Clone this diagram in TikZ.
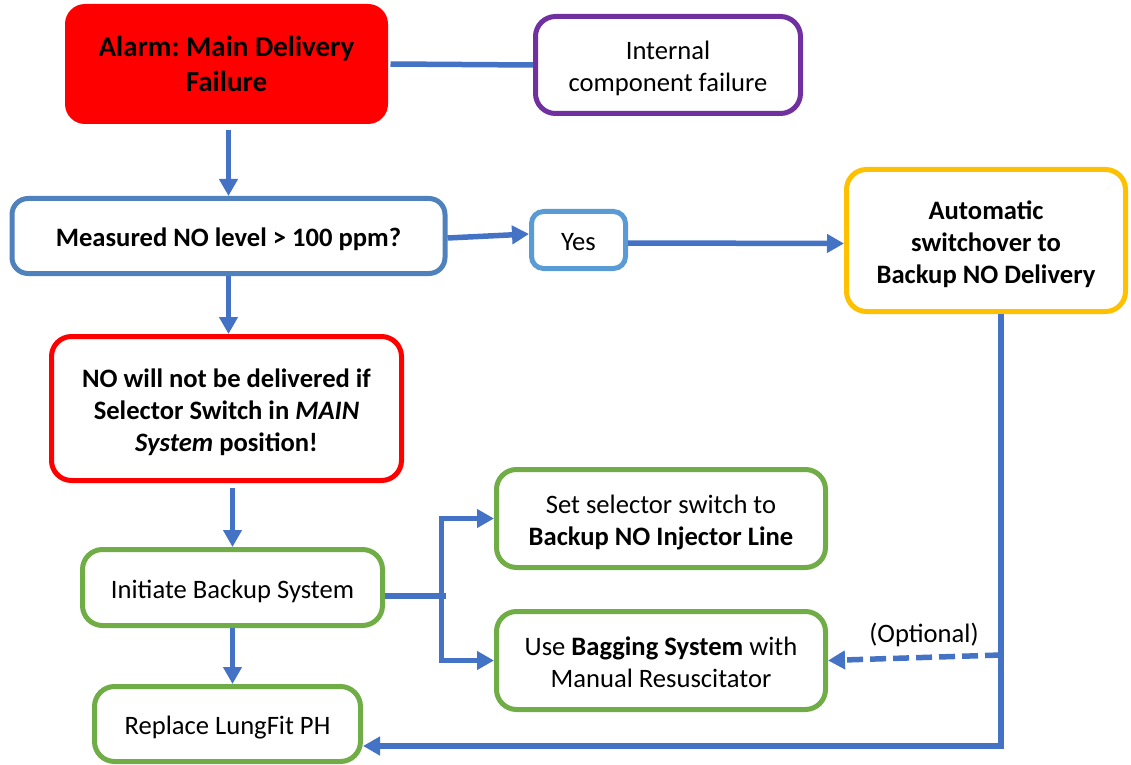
\documentclass[tikz,border=0pt]{standalone}
\usepackage{fontspec}
\setmainfont{Carlito}
\usetikzlibrary{arrows.meta}
\frenchspacing
\definecolor{arrowblue}{HTML}{4472C4}
\definecolor{measblue}{HTML}{4F81BD}
\definecolor{yesblue}{HTML}{5B9BD5}
\definecolor{alarmred}{HTML}{FF0000}
\definecolor{purp}{HTML}{7030A0}
\definecolor{gold}{HTML}{FFC000}
\definecolor{grn}{HTML}{70AD47}
\newcommand\fstrut{\rule{0pt}{14.3pt}}
\newcommand\lstrut{\rule[-3.4pt]{0pt}{0pt}}
\begin{document}
\begin{tikzpicture}[x=0.5pt,y=-0.5pt,
  box/.style={draw, line width=2.5pt, rounded corners=10pt, fill=white, inner sep=0pt,
    align=center, font=\fontsize{13.3}{16.1}\selectfont},
  boldbox/.style={box, font=\bfseries\fontsize{13.3}{16.1}\selectfont},
  conn/.style={draw=arrowblue, line width=2.75pt},
  arr/.style={conn, -{Triangle[width=9pt,length=8.5pt]}},
]
\useasboundingbox (0,0) rectangle (1131,765);

% nodes
\node[box, draw=none, fill=alarmred, minimum width=161.5pt, minimum height=60pt,
  font=\bfseries\fontsize{14.5}{17.8}\selectfont] (alarm) at (226.5,64) {Alarm: Main Delivery\\Failure};
\node[box, draw=purp, minimum width=132.5pt, minimum height=48.5pt] (internal) at (668,65) {\fstrut Internal\\component failure\lstrut};
\node[boldbox, draw=measblue, rounded corners=8pt, minimum width=216.5pt, minimum height=37.5pt] (measured) at (228.5,236) {\fstrut Measured NO level > 100 ppm?\lstrut};
\node[box, draw=yesblue, rounded corners=6pt, minimum width=47pt, minimum height=28.5pt] (yes) at (578.5,240) {\fstrut Yes\lstrut};
\node[boldbox, draw=gold, minimum width=139.5pt, minimum height=71pt] (auto) at (986,240.5) {\fstrut Automatic\\switchover to\\Backup NO Delivery\lstrut};
\node[boldbox, draw=alarmred, minimum width=175pt, minimum height=72pt] (nobox) at (226.5,408.5) {\fstrut NO will not be delivered if\\Selector Switch in \textit{MAIN}\\\textit{System} position!\lstrut};
\node[box, draw=grn, minimum width=150pt, minimum height=38pt] (initiate) at (232.5,587.5) {\fstrut Initiate Backup System\lstrut};
\node[box, draw=grn, minimum width=133pt, minimum height=37.5pt] (lungfit) at (227.5,724) {\fstrut Replace LungFit PH\lstrut};
\node[box, draw=grn, minimum width=164.5pt, minimum height=49pt] (setbox) at (661,518.5) {\fstrut Set selector switch to\\\textbf{Backup NO Injector Line}\lstrut};
\node[box, draw=grn, minimum width=164.5pt, minimum height=49pt] (bagbox) at (661,660.5) {\fstrut Use \textbf{Bagging System} with\\Manual Resuscitator\lstrut};
\node[font=\fontsize{13.3}{16.1}\selectfont, inner sep=0pt] (opt) at (924,635) {(Optional)};

% connectors
\coordinate (j) at (441.5,596);
\coordinate (d) at (1001,655);
\draw[conn] (alarm.east) -- (internal.west);
\draw[arr] ([yshift=-2pt]alarm.south -| measured.north) -- (measured.north);
\draw[arr] (measured.south) -- (measured.south |- nobox.north);
\draw[arr] ([yshift=-2.5pt]initiate.north |- nobox.south) -- (initiate.north);
\draw[arr] (initiate.south) -- (initiate.south |- lungfit.north);
\draw[arr] ([yshift=-1pt]measured.east) -- ([yshift=3pt]yes.west);
\draw[arr] ([yshift=-1.5pt]yes.east) -- ([yshift=-1.5pt]auto.west);
\draw[conn] (initiate.east |- j) -- ([xshift=2pt]j);
\draw[arr] (j) |- (setbox.west);
\draw[arr] (j) |- (bagbox.west);
\draw[arr] ([xshift=7.5pt]auto.south) |- ([yshift=-11pt]lungfit.east);
\draw[arr, dash pattern=on 8pt off 3.5pt] (d) -- (bagbox.east);
\end{tikzpicture}
\end{document}
